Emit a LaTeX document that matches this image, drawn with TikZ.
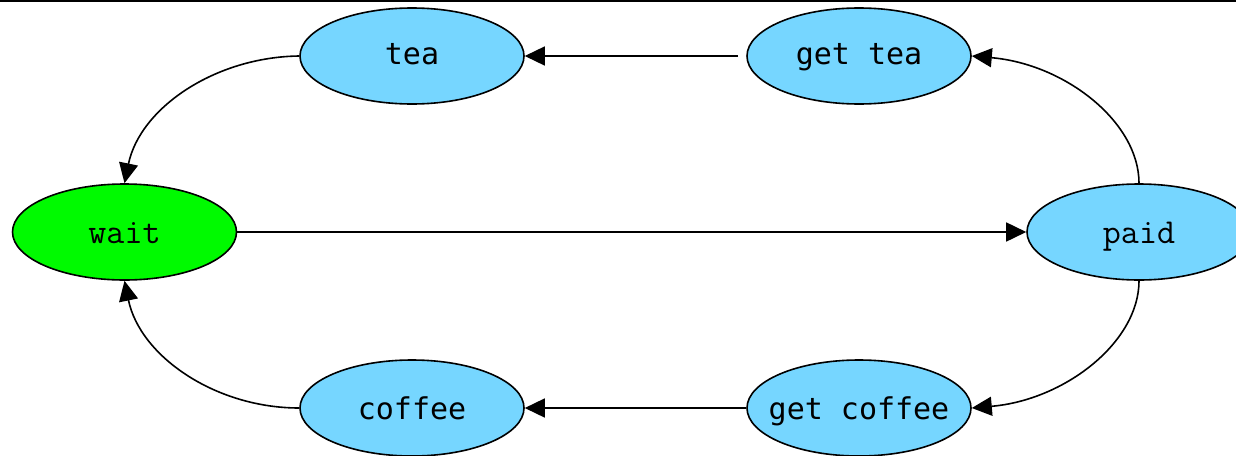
\documentclass[tikz,border=0pt]{standalone}
\usepackage{fontspec}
\usetikzlibrary{shapes.geometric,arrows.meta}
\newfontfamily\labelmono{DejaVu Sans Mono}
\definecolor{statblue}{HTML}{76D6FF}
\definecolor{statgreen}{HTML}{00FA00}
\tikzset{
  state/.style={ellipse, draw=black, line width=1.6pt, fill=statblue,
    minimum width=224pt, minimum height=96pt, inner xsep=-80pt, inner ysep=0pt,
    font=\labelmono\fontsize{30}{30}\selectfont,
    text height=28pt, text depth=6pt},
  serifmono/.style={font=\ttfamily\fontsize{35}{35}\selectfont},
  start/.style={state, serifmono, fill=statgreen},
  tr/.style={line width=1.6pt, -{Triangle[length=20pt,width=19pt]}}
}
\begin{document}
\begin{tikzpicture}[x=1pt,y=-1pt]
  \useasboundingbox (0,0) rectangle (1236,455);
  \fill[white] (0,0) rectangle (1236,455);
  \draw[line width=1.6pt] (0,0.8) -- (1236,0.8);

  \node[state, text height=23pt] (tea)    at (412,56) {tea};
  \node[state, text height=23pt] (gettea) at (859,56) {get tea};
  \node[start] (wait)      at (124.5,232) {wait};
  \node[state, serifmono]  (paid) at (1139,232) {paid};
  \node[state] (coffee)    at (412,408) {coffee};
  \node[state] (getcoffee) at (859,408) {get coffee};

  \coordinate (gtstart) at (738,56);
  \draw[tr] (gtstart) -- (tea.east);
  \draw[tr] (paid.north) .. controls (1139,122) and (1065,64) .. (gettea.east);
  \draw[tr] (tea.west) .. controls (215,57) and (140,108) .. (wait.north);
  \draw[tr] (wait.east) -- (paid.west);
  \draw[tr] (paid.south) .. controls (1139,342) and (1065,400) .. (getcoffee.east);
  \draw[tr] (getcoffee.west) -- (coffee.east);
  \draw[tr] (coffee.west) .. controls (215,408) and (140,356) .. (wait.south);
\end{tikzpicture}
\end{document}
